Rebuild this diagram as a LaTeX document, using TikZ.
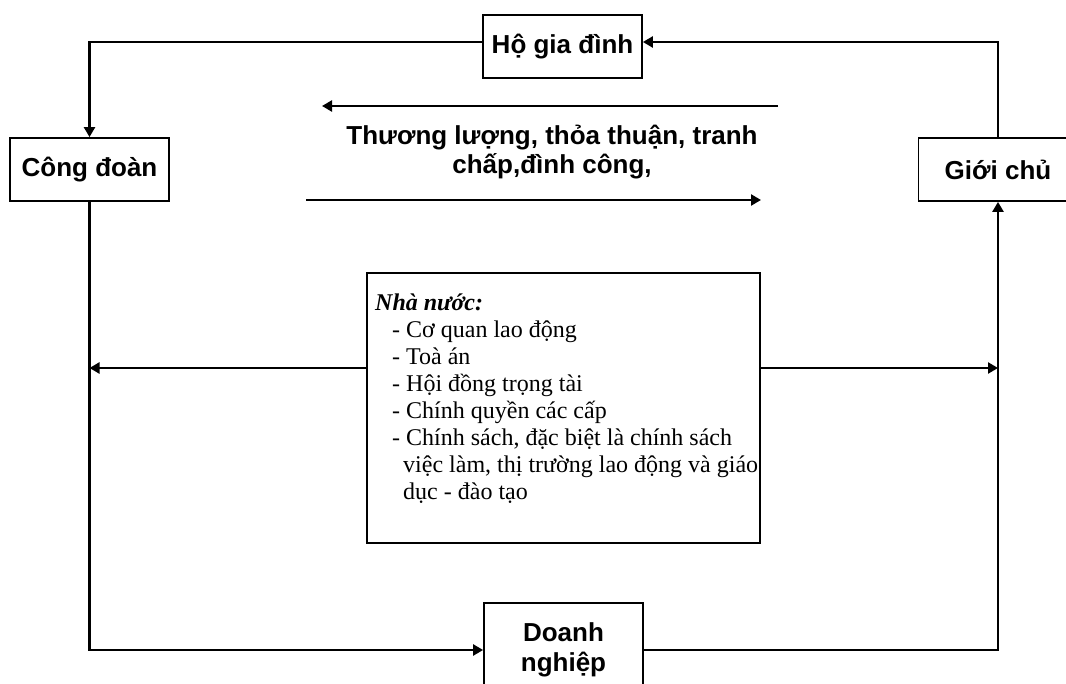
\documentclass[tikz,border=0pt]{standalone}
\usepackage{fontspec}
\setmainfont{Liberation Serif}
\newfontfamily\arialf{Liberation Sans}
\usetikzlibrary{arrows.meta,calc}
\begin{document}
\begin{tikzpicture}[x=1pt,y=-1pt,
  box/.style={draw, line width=1.8pt, minimum width=159pt, minimum height=63pt, inner sep=0pt,
    font=\arialf\bfseries\fontsize{26}{30}\selectfont, align=center},
  conn/.style={line width=2.4pt},
  arr/.style={conn, -{Triangle[length=10pt,width=11pt]}}]
\useasboundingbox (0,0) rectangle (1066,684);
\node[box] (ho) at (562.5,46.5) {Hộ gia đình};
\node[box] (cd) at (89.5,169.5) {Công đoàn};
\node[box] (gc) at (998,169.5) {Giới chủ};
\node[box, minimum height=94pt] (dn) at (563.5,650) {Doanh\\nghiệp};
\node[draw, line width=1.8pt, minimum width=393pt, minimum height=270pt, inner sep=0pt] (nn) at (563.5,408) {};
\node[anchor=north west, inner sep=0pt, align=left, font=\fontsize{24}{27}\selectfont] (nnt) at (375,294)
 {\textbf{\textit{Nhà nước:}}\\
  \hspace*{17pt}- Cơ quan lao động\\
  \hspace*{17pt}- Toà án\\
  \hspace*{17pt}- Hội đồng trọng tài\\
  \hspace*{17pt}- Chính quyền các cấp\\
  \hspace*{17pt}- Chính sách, đặc biệt là chính sách\\
  \hspace*{28pt}việc làm, thị trường lao động và giáo\\
  \hspace*{28pt}dục - đào tạo};
\node[font=\arialf\bfseries\fontsize{26}{29}\selectfont, align=center, inner sep=0pt] (tl) at (552,151.75)
 {Thương lượng, thỏa thuận, tranh\\chấp,đình công,};
\draw[arr] ([yshift=4.5pt]ho.west) -| (cd.north);
\draw[arr] (gc.north) |- ([yshift=4.5pt]ho.east);
\draw[arr] (cd.south) |- (dn.west);
\draw[arr] (dn.east) -| (gc.south);
\coordinate (nnl) at ([yshift=40pt]nn.west);
\coordinate (nnr) at ([yshift=40pt]nn.east);
\draw[arr] (nnl) -- (nnl -| cd.south);
\draw[arr] (nnr) -- (nnr -| gc.north);
\coordinate (u1) at (778,106);
\coordinate (u2) at (322,106);
\draw[arr] (u1) -- (u2);
\coordinate (d1) at (306,200);
\coordinate (d2) at (761,200);
\draw[arr] (d1) -- (d2);
\end{tikzpicture}
\end{document}
